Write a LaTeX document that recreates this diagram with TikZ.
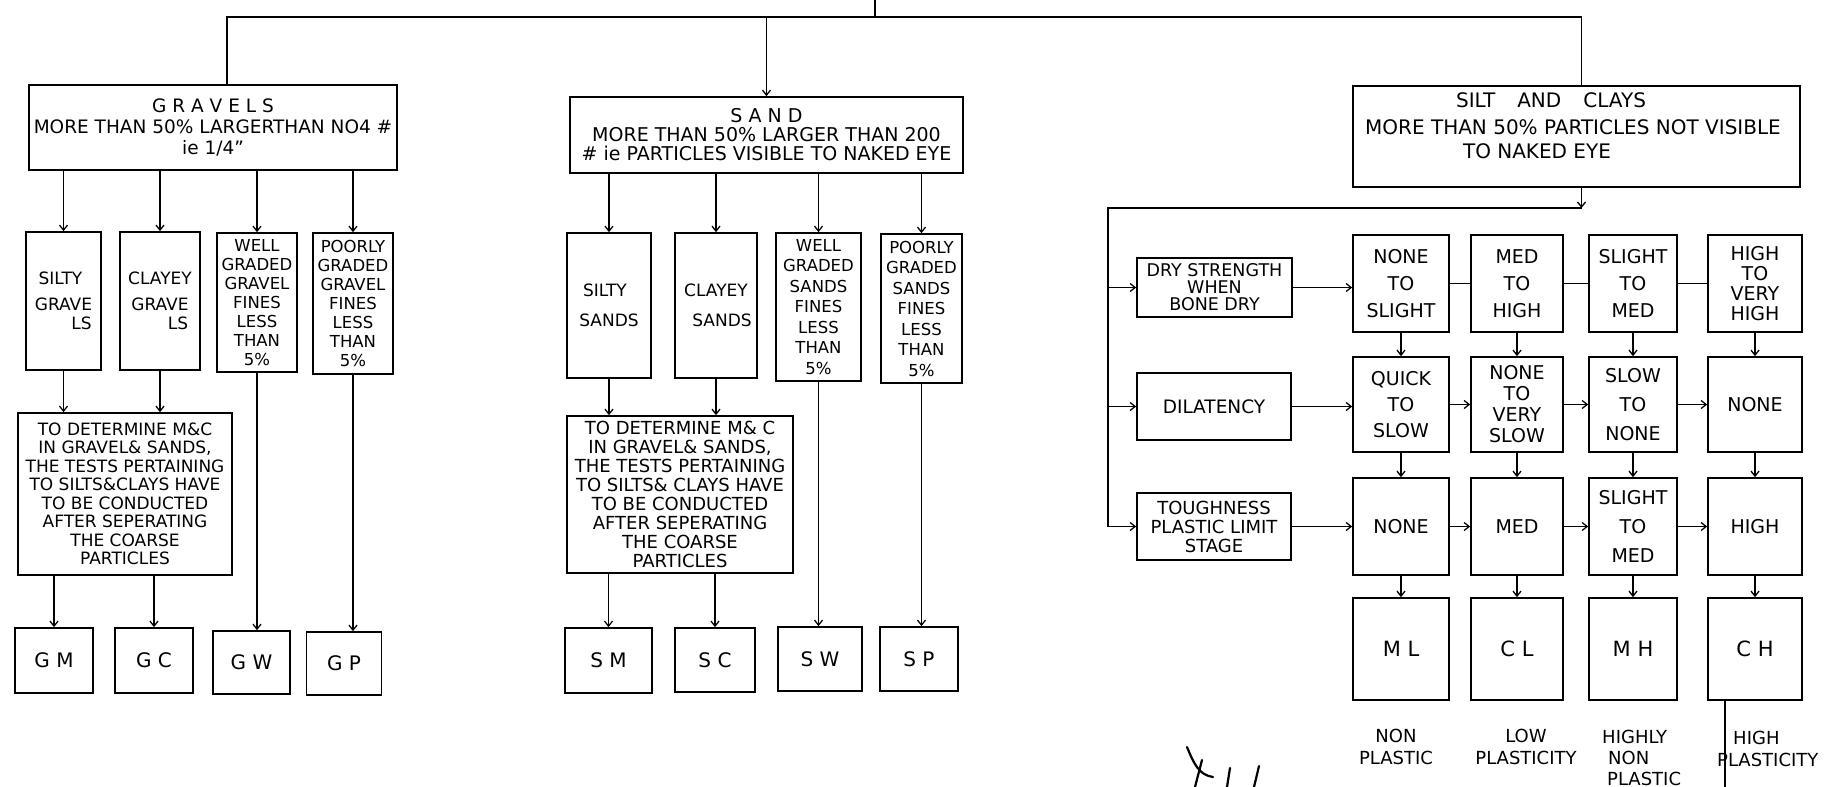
\documentclass[tikz,border=0pt]{standalone}
\usepackage{fontspec}
\setmainfont{DejaVu Sans}
\usetikzlibrary{arrows.meta}
\newcommand\myfs[2]{\fontsize{#1}{#2}\selectfont}
\tikzset{
  conn/.style={line width=1.7pt},
  arr/.style={conn,-{Straight Barb[length=5pt,width=8pt,line width=1.3pt]}},
  bx/.style={draw,line width=1.7pt,inner sep=0pt,align=center,font=\myfs{16.5}{19}},
  hd/.style={font=\myfs{18.5}{21}},
  para/.style={font=\myfs{17}{18.5}},
  code/.style={font=\myfs{20}{22}},
  prop/.style={font=\myfs{18}{18}},
  cell/.style={font=\myfs{19}{27}},
  txt/.style={inner sep=0pt,align=center},
  lbl/.style={inner sep=0pt,font=\myfs{18}{22}},
  scrib/.style={line width=2.2pt,line cap=round,line join=round}
}
\begin{document}
\begin{tikzpicture}[x=1pt,y=-1pt]
\useasboundingbox (0,0) rectangle (1842,787);

% ---------- root line ----------
\coordinate (root) at (875,0);
\coordinate (tl) at (875,17);

% ---------- gravels ----------
\node[bx,hd,minimum width=368pt,minimum height=85pt] (gr) at (213,127.5)
  {G R A V E L S\\MORE THAN 50\% LARGERTHAN NO4 \#\\ie 1/4\symbol{34}};
\node[bx,font=\myfs{17}{19},minimum width=75pt,minimum height=138pt] (g1) at (63.5,301)
  {SILTY\hspace*{6pt}\\[7pt]GRAVE\\\hspace*{36pt}LS};
\node[bx,font=\myfs{17}{19},minimum width=80pt,minimum height=138pt] (g2) at (160,301)
  {CLAYEY\\[7pt]GRAVE\\\hspace*{36pt}LS};
\node[bx,minimum width=80pt,minimum height=139pt] (g3) at (257,302.5)
  {WELL\\GRADED\\GRAVEL\\FINES\\LESS\\THAN\\5\%};
\node[bx,minimum width=80pt,minimum height=141pt] (g4) at (353,303.5)
  {POORLY\\GRADED\\GRAVEL\\FINES\\LESS\\THAN\\5\%};
\node[bx,para,minimum width=214pt,minimum height=162pt] (gt) at (125,494)
  {TO DETERMINE M\&C\\IN GRAVEL\& SANDS,\\THE TESTS PERTAINING\\TO SILTS\&CLAYS HAVE\\TO BE CONDUCTED\\AFTER SEPERATING\\THE COARSE\\PARTICLES};
\node[bx,code,minimum width=78pt,minimum height=65pt] (gm) at (54,660.5) {G M};
\node[bx,code,minimum width=78pt,minimum height=65pt] (gc) at (154,660.5) {G C};
\node[bx,code,minimum width=77pt,minimum height=63pt] (gw) at (251.5,662.5) {G W};
\node[bx,code,minimum width=75pt,minimum height=63pt] (gp) at (344,663.5) {G P};

% ---------- sand ----------
\node[bx,font=\myfs{19}{19},minimum width=393pt,minimum height=76pt] (sa) at (766.5,135)
  {S A N D\\MORE THAN 50\% LARGER THAN 200\\\# ie PARTICLES VISIBLE TO NAKED EYE};
\node[bx,font=\myfs{17}{19},minimum width=84pt,minimum height=145pt] (s1) at (609,305.5)
  {SILTY\hspace*{8pt}\\[11pt]SANDS};
\node[bx,font=\myfs{17}{19},minimum width=82pt,minimum height=145pt] (s2) at (716,305.5)
  {CLAYEY\\[11pt]\hspace*{12pt}SANDS};
\node[bx,font=\myfs{16.5}{20.5},minimum width=85pt,minimum height=148pt] (s3) at (818.5,307)
  {WELL\\GRADED\\SANDS\\FINES\\LESS\\THAN\\5\%};
\node[bx,font=\myfs{16.5}{20.5},minimum width=81pt,minimum height=149pt] (s4) at (921.5,308.5)
  {POORLY\\GRADED\\SANDS\\FINES\\LESS\\THAN\\5\%};
\node[bx,font=\myfs{18}{19},minimum width=226pt,minimum height=157pt] (st) at (680,494.5)
  {TO DETERMINE M\& C\\IN GRAVEL\& SANDS,\\THE TESTS PERTAINING\\TO SILTS\& CLAYS HAVE\\TO BE CONDUCTED\\AFTER SEPERATING\\THE COARSE\\PARTICLES};
\node[bx,code,minimum width=87pt,minimum height=65pt] (sm) at (608.5,660.5) {S M};
\node[bx,code,minimum width=80pt,minimum height=64pt] (sc2) at (715,660) {S C};
\node[bx,code,minimum width=84pt,minimum height=64pt] (sw) at (820,659) {S W};
\node[bx,code,minimum width=78pt,minimum height=64pt] (sp) at (919,659) {S P};

% ---------- silt and clays ----------
\node[bx,minimum width=447pt,minimum height=101pt] (sc) at (1576.5,136.5) {};
\node[txt,font=\myfs{20}{20}] (sct1) at (1551,100) {SILT\hspace{1.1em}AND\hspace{1.1em}CLAYS};
\node[txt,font=\myfs{20}{20}] (sct2) at (1573,127) {MORE THAN 50\% PARTICLES NOT VISIBLE};
\node[txt,font=\myfs{20}{20}] (sct3) at (1537,151) {TO NAKED EYE};

\coordinate (bus) at (1108,208);

\node[bx,font=\myfs{17.5}{17},minimum width=155pt,minimum height=59pt] (dry) at (1214.5,287.5)
  {DRY STRENGTH\\WHEN\\BONE DRY};
\node[bx,font=\myfs{18.5}{19},minimum width=154pt,minimum height=67pt] (dil) at (1214,406.5) {DILATENCY};
\node[bx,font=\myfs{18}{19},minimum width=154pt,minimum height=67pt] (tou) at (1214,526.5)
  {TOUGHNESS\\PLASTIC LIMIT\\STAGE};

% grid
\node[bx,cell,minimum width=96pt,minimum height=97pt] (c11) at (1401,283.5) {NONE\\TO\\SLIGHT};
\node[bx,cell,minimum width=92pt,minimum height=97pt] (c12) at (1517,283.5) {MED\\TO\\HIGH};
\node[bx,cell,minimum width=88pt,minimum height=97pt] (c13) at (1633,283.5) {SLIGHT\\TO\\MED};
\node[bx,cell,font=\myfs{19}{20},minimum width=94pt,minimum height=97pt] (c14) at (1755,283.5) {HIGH\\TO\\VERY\\HIGH};

\node[bx,cell,font=\myfs{19}{26},minimum width=96pt,minimum height=95pt] (c21) at (1401,404.5) {QUICK\\TO\\SLOW};
\node[bx,cell,font=\myfs{19}{21},minimum width=92pt,minimum height=95pt] (c22) at (1517,404.5) {NONE\\TO\\VERY\\SLOW};
\node[bx,cell,font=\myfs{19}{29},minimum width=88pt,minimum height=95pt] (c23) at (1633,404.5) {SLOW\\TO\\NONE};
\node[bx,cell,minimum width=94pt,minimum height=95pt] (c24) at (1755,404.5) {NONE};

\node[bx,cell,minimum width=96pt,minimum height=97pt] (c31) at (1401,526.5) {NONE};
\node[bx,cell,minimum width=92pt,minimum height=97pt] (c32) at (1517,526.5) {MED};
\node[bx,cell,font=\myfs{19}{29},minimum width=88pt,minimum height=97pt] (c33) at (1633,526.5) {SLIGHT\\TO\\MED};
\node[bx,cell,minimum width=94pt,minimum height=97pt] (c34) at (1755,526.5) {HIGH};

\node[bx,code,font=\myfs{21}{22},minimum width=96pt,minimum height=102pt] (c41) at (1401,649) {M L};
\node[bx,code,font=\myfs{21}{22},minimum width=92pt,minimum height=102pt] (c42) at (1517,649) {C L};
\node[bx,code,font=\myfs{21}{22},minimum width=88pt,minimum height=102pt] (c43) at (1633,649) {M H};
\node[bx,code,font=\myfs{21}{22},minimum width=94pt,minimum height=102pt] (c44) at (1755,649) {C H};

% labels under
\node[lbl,align=center] (lb1) at (1396,747) {NON\\PLASTIC};
\node[lbl,align=center] (lb2) at (1526,747) {LOW\\PLASTICITY};
\node[lbl,align=left,anchor=west,font=\myfs{18}{21}] (lb3) at (1602,758) {HIGHLY\\\hspace*{6pt}NON\\\hspace*{5pt}PLASTIC};
\node[lbl,align=left,anchor=west] (lb4) at (1717,749) {\hspace*{16pt}HIGH\\PLASTICITY};
\coordinate (chend) at (1725,787);

% ---------- connectors: top ----------
\draw[conn] (root) -- (tl);
\draw[conn] ([xshift=14pt]gr.north) -- ([xshift=14pt]gr.north |- tl) -- ([xshift=5pt]sc.north |- tl) -- ([xshift=5pt]sc.north);
\draw[arr] (sa.north |- tl) -- (sa.north);

% gravels
\foreach \n in {g1,g2,g3,g4} \draw[arr] (\n.north |- gr.south) -- (\n.north);
\draw[arr] (g1.south) -- (g1.south |- gt.north);
\draw[arr] (g2.south) -- (g2.south |- gt.north);
\draw[arr] (gm.north |- gt.south) -- (gm.north);
\draw[arr] (gc.north |- gt.south) -- (gc.north);
\draw[arr] (g3.south) -- (g3.south |- gw.north);
\draw[arr] (g4.south) -- (g4.south |- gp.north);

% sand
\foreach \n in {s1,s2,s3,s4} \draw[arr] (\n.north |- sa.south) -- (\n.north);
\draw[arr] (s1.south) -- (s1.south |- st.north);
\draw[arr] (s2.south) -- (s2.south |- st.north);
\draw[arr] (sm.north |- st.south) -- (sm.north);
\draw[arr] (sc2.north |- st.south) -- (sc2.north);
\draw[arr] (s3.south) -- (s3.south |- sw.north);
\draw[arr] (s4.south) -- (s4.south |- sp.north);

% silt and clays
\draw[arr] ([xshift=5pt]sc.south) -- ([xshift=5pt]sc.south |- bus);
\draw[conn] ([xshift=5pt]sc.south |- bus) -- (bus) -- (bus |- tou.west);
\draw[arr] (bus |- dry.west) -- (dry.west);
\draw[arr] (bus |- dil.west) -- (dil.west);
\draw[arr] (bus |- tou.west) -- (tou.west);
\draw[arr] (dry.east) -- (dry.east -| c11.west);
\draw[arr] (dil.east) -- (dil.east -| c21.west);
\draw[arr] (tou.east) -- (tou.east -| c31.west);

\draw[conn] (c11.east) -- (c12.west);
\draw[conn] (c12.east) -- (c13.west);
\draw[conn] (c13.east) -- (c14.west);
\draw[arr] (c21.east) -- (c22.west);
\draw[arr] (c22.east) -- (c23.west);
\draw[arr] (c23.east) -- (c24.west);
\draw[arr] (c31.east) -- (c32.west);
\draw[arr] (c32.east) -- (c33.west);
\draw[arr] (c33.east) -- (c34.west);

\foreach \c in {1,2,3,4} {
  \draw[arr] (c1\c.south) -- (c2\c.north);
  \draw[arr] (c2\c.south) -- (c3\c.north);
  \draw[arr] (c3\c.south) -- (c4\c.north);
}
\draw[conn] (c44.south -| chend) -- (chend);

% handwritten mark
\draw[scrib] (1187,747) .. controls (1194,764) and (1199,775) .. (1213,777);
\draw[scrib] (1202,760) -- (1195,787);
\draw[scrib] (1230,768) -- (1227,787);
\draw[scrib] (1259,766) -- (1254,787);
\end{tikzpicture}
\end{document}
